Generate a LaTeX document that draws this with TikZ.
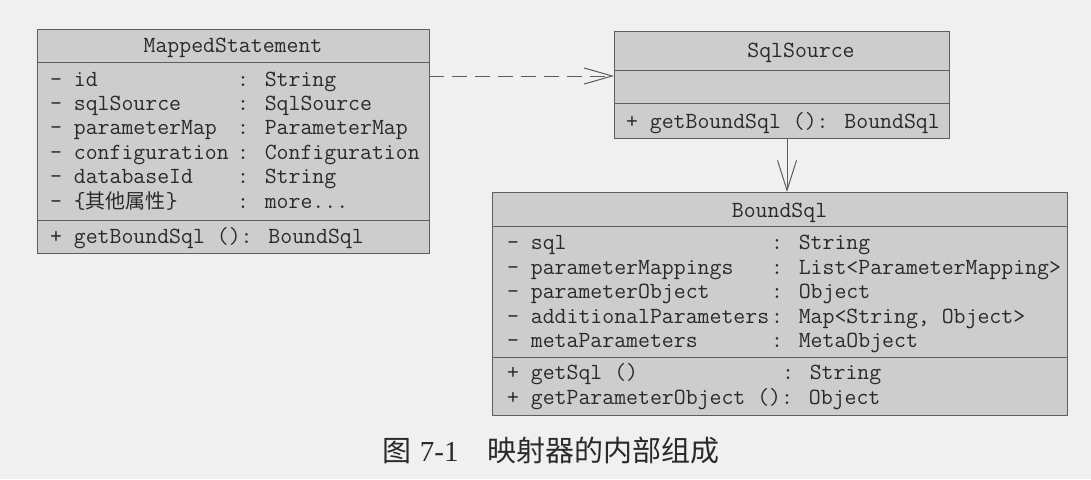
\documentclass[tikz,border=0pt]{standalone}
\usepackage{fontspec}
\newfontfamily\cjk{Noto Sans CJK SC}
\newfontfamily\capserif{Liberation Serif}
\usetikzlibrary{arrows.meta}
\definecolor{bg}{HTML}{F0F0F0}
\definecolor{boxfill}{HTML}{CDCDCD}
\definecolor{boxline}{HTML}{5E5E5E}
\definecolor{ink}{HTML}{2A2A2A}
\tikzset{
  comp/.style={draw=boxline, fill=boxfill, line width=1pt, anchor=north west, inner sep=0pt, outer sep=0pt},
  mono/.style={anchor=base west, inner sep=0pt, outer sep=0pt, text=ink, font=\ttfamily\fontsize{23.14}{24}\selectfont\addfontfeatures{FakeBold=0.5}},
  title/.style={mono, anchor=base},
  dep/.style={draw=boxline, line width=1pt, dash pattern=on 15pt off 8pt, -{Straight Barb[length=28pt,width=16pt]}},
  assoc/.style={draw=boxline, line width=1pt, -{Straight Barb[length=30pt,width=19pt]}},
  captext/.style={anchor=base west, inner sep=0pt, text=ink, font=\fontsize{29}{30}\selectfont}
}
\newcommand{\cjkattr}[1]{{\cjk\fontsize{20}{20}\selectfont #1}}
\begin{document}
\begin{tikzpicture}[x=1pt,y=-1pt]
\fill[bg] (0,0) rectangle (1091,479);
\useasboundingbox (0,0) rectangle (1091,479);

% ---------- MappedStatement ----------
\node[comp, minimum width=392pt, minimum height=33pt] (msH) at (37,29) {};
\node[comp, minimum width=392pt, minimum height=158pt] (msA) at (msH.south west) {};
\node[comp, minimum width=392pt, minimum height=33pt] (msM) at (msA.south west) {};
\node[title] (msT) at (233,52) {MappedStatement};
\node[mono] (ms1a) at (50,86) {- id};
\node[mono] (ms1b) at (237,86) {: String};
\node[mono] (ms2a) at (50,110.4) {- sqlSource};
\node[mono] (ms2b) at (237,110.4) {: SqlSource};
\node[mono] (ms3a) at (50,134.8) {- parameterMap};
\node[mono] (ms3b) at (237,134.8) {: ParameterMap};
\node[mono] (ms4a) at (50,159.2) {- configuration};
\node[mono] (ms4b) at (237,159.2) {: Configuration};
\node[mono] (ms5a) at (50,183.6) {- databaseId};
\node[mono] (ms5b) at (237,183.6) {: String};
\node[mono] (ms6a) at (50,208) {- \{\cjkattr{其他属性}\}};
\node[mono] (ms6b) at (237,208) {: more...};
\node[mono] (ms7) at (50,243) {+ getBoundSql (): BoundSql};

% ---------- SqlSource ----------
\node[comp, minimum width=335pt, minimum height=39pt] (ssH) at (614,31) {};
\node[comp, minimum width=335pt, minimum height=33pt] (ssA) at (ssH.south west) {};
\node[comp, minimum width=335pt, minimum height=35pt] (ssM) at (ssA.south west) {};
\node[title] (ssT) at (801,57) {SqlSource};
\node[mono] (ss1) at (626,128) {+ getBoundSql (): BoundSql};

% ---------- BoundSql ----------
\node[comp, minimum width=575pt, minimum height=34pt] (bsH) at (492,192) {};
\node[comp, minimum width=575pt, minimum height=131pt] (bsA) at (bsH.south west) {};
\node[comp, minimum width=575pt, minimum height=58pt] (bsM) at (bsA.south west) {};
\node[title] (bsT) at (779.5,217) {BoundSql};
\node[mono] (bs1a) at (507,249) {- sql};
\node[mono] (bs1b) at (771,249) {: String};
\node[mono] (bs2a) at (507,274) {- parameterMappings};
\node[mono] (bs2b) at (771,274) {: List<ParameterMapping>};
\node[mono] (bs3a) at (507,298) {- parameterObject};
\node[mono] (bs3b) at (771,298) {: Object};
\node[mono] (bs4a) at (507,323) {- additionalParameters};
\node[mono] (bs4b) at (771,323) {: Map<String, Object>};
\node[mono] (bs5a) at (507,347) {- metaParameters};
\node[mono] (bs5b) at (771,347) {: MetaObject};
\node[mono] (bs6a) at (507,379) {+ getSql ()};
\node[mono] (bs6b) at (782,379) {: String};
\node[mono] (bs7) at (507,404) {+ getParameterObject (): Object};

% ---------- connectors ----------
\draw[dep] ([yshift=-47pt]msH.north east) -- ([yshift=-45pt]ssH.north west);
\draw[assoc] ([xshift=5.5pt]ssM.south) -- ([xshift=7.5pt]bsH.north);

% ---------- caption ----------
\node[captext] (capA) at (382,461) {{\cjk 图} {\capserif 7-1}};
\node[captext] (capB) at (487,461) {\cjk 映射器的内部组成};
\end{tikzpicture}
\end{document}
